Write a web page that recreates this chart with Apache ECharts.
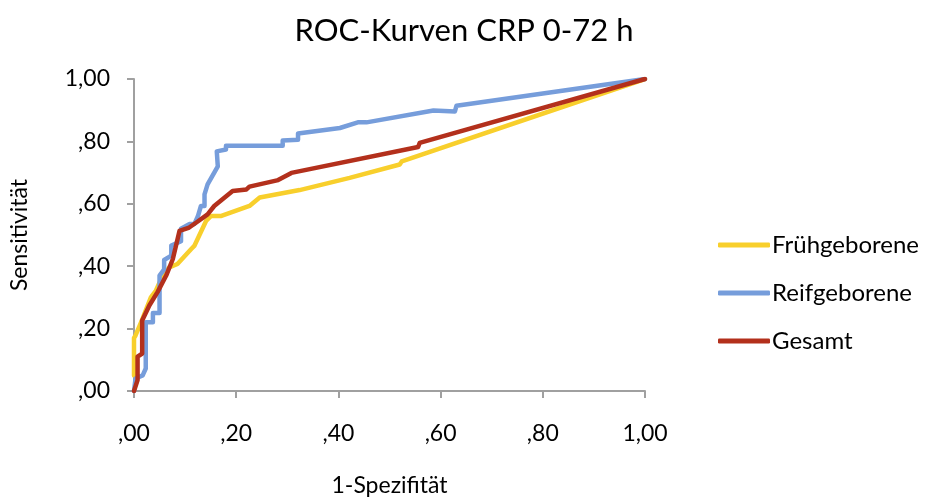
<!DOCTYPE html>
<html>
<head>
<meta charset="utf-8">
<script src="https://cdn.jsdelivr.net/npm/echarts@6/dist/echarts.min.js"></script>
<style>html,body{margin:0;padding:0;background:#fff}#c{width:928px;height:502px}</style>
</head>
<body>
<div id="c"></div>
<script>
const seriesNames = ['Frühgeborene', 'Reifgeborene', 'Gesamt'];
const tickLabels = [',00', ',20', ',40', ',60', ',80', '1,00'];

const fruehX = [0, 0, 0.003, 0.014, 0.033, 0.043, 0.056, 0.069, 0.085, 0.112, 0.118, 0.141, 0.151, 0.171, 0.226, 0.246, 0.324, 0.422, 0.520, 0.524, 1];
const fruehY = [0.05, 0.17, 0.178, 0.221, 0.300, 0.322, 0.370, 0.396, 0.407, 0.455, 0.465, 0.545, 0.561, 0.561, 0.593, 0.620, 0.644, 0.683, 0.726, 0.736, 1];

const reifX = [0, 0.003, 0.017, 0.023, 0.023, 0.037, 0.037, 0.050, 0.050, 0.059, 0.059, 0.073, 0.073, 0.092, 0.092, 0.108, 0.118, 0.125, 0.131, 0.138, 0.138, 0.144, 0.147, 0.164, 0.162, 0.180, 0.180, 0.291, 0.291, 0.321, 0.321, 0.403, 0.438, 0.455, 0.586, 0.628, 0.631, 1];
const reifY = [0, 0.040, 0.050, 0.072, 0.220, 0.220, 0.250, 0.250, 0.370, 0.390, 0.420, 0.434, 0.466, 0.480, 0.520, 0.535, 0.535, 0.560, 0.593, 0.593, 0.630, 0.662, 0.662, 0.720, 0.768, 0.774, 0.786, 0.786, 0.803, 0.805, 0.825, 0.843, 0.861, 0.861, 0.899, 0.896, 0.914, 1];

const gesamtX = [0, 0.007, 0.007, 0.016, 0.016, 0.030, 0.046, 0.063, 0.076, 0.089, 0.108, 0.122, 0.144, 0.157, 0.193, 0.220, 0.226, 0.282, 0.308, 0.556, 0.559, 1];
const gesamtY = [0, 0.035, 0.110, 0.120, 0.226, 0.274, 0.317, 0.370, 0.423, 0.513, 0.524, 0.540, 0.566, 0.593, 0.641, 0.646, 0.655, 0.676, 0.699, 0.782, 0.795, 1];

const colors = ['#F8CF2C', '#769DDB', '#B3301C'];
const zip = (xs, ys) => xs.map((x, i) => [x, ys[i]]);
const FONT = 'Lato, "Liberation Sans", sans-serif';
const fmt = v => tickLabels[Math.round(v / 0.2)];

const chart = echarts.init(document.getElementById('c'));
const axisCommon = {
  type: 'value', min: 0, max: 1, interval: 0.2,
  nameLocation: 'middle',
  nameTextStyle: { fontFamily: FONT, fontSize: 23, color: '#000' },
  axisLine: { show: true, lineStyle: { color: '#a0a0a0', width: 2 } },
  axisTick: { show: true, length: 7, lineStyle: { color: '#a0a0a0', width: 2 } },
  splitLine: { show: false },
  axisLabel: { fontFamily: FONT, fontSize: 23, color: '#000', formatter: fmt }
};
const mk = (name, xs, ys, color) => ({
  name, type: 'line', data: zip(xs, ys), showSymbol: false, symbol: 'none',
  lineStyle: { color, width: 4.5, cap: 'round', join: 'round' },
  itemStyle: { color }, animation: false
});
chart.setOption({
  animation: false,
  title: {
    text: 'ROC-Kurven CRP 0-72 h', left: 'center', top: 10,
    textStyle: { fontFamily: FONT, fontSize: 31, fontWeight: 'normal', color: '#000' }
  },
  grid: { left: 134, right: 283, top: 79, bottom: 109, containLabel: false },
  legend: {
    orient: 'vertical', left: 713, top: 228, itemGap: 24,
    itemWidth: 52, itemHeight: 5, icon: 'roundRect',
    data: seriesNames,
    textStyle: { fontFamily: FONT, fontSize: 24, color: '#000', lineHeight: 22, padding: [0, 0, 0, -3] }
  },
  xAxis: Object.assign({}, axisCommon, { name: '1-Spezifität', nameGap: 83, axisLabel: Object.assign({}, axisCommon.axisLabel, { margin: 31 }) }),
  yAxis: Object.assign({}, axisCommon, { name: 'Sensitivität', nameGap: 103, axisLabel: Object.assign({}, axisCommon.axisLabel, { margin: 24 }) }),
  series: [
    mk(seriesNames[0], fruehX, fruehY, colors[0]),
    mk(seriesNames[1], reifX, reifY, colors[1]),
    mk(seriesNames[2], gesamtX, gesamtY, colors[2])
  ]
});
</script>
</body>
</html>
